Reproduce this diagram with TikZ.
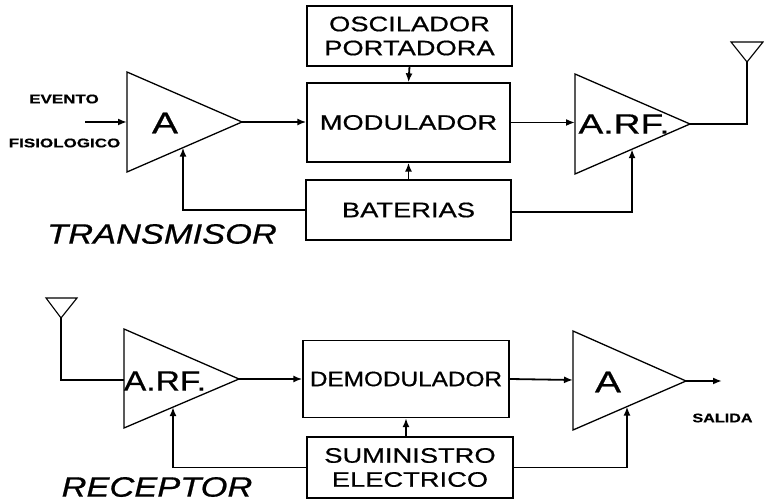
\documentclass[tikz,border=0pt]{standalone}
\usepackage{fontspec}
\setmainfont{Liberation Sans}[FakeBold=0.6]
\newfontfamily\boxfont{Liberation Sans}[FakeStretch=1.3,FakeBold=0.6]
\newfontfamily\demfont{Liberation Sans}[FakeStretch=1.16,FakeBold=0.6]
\usetikzlibrary{arrows.meta,calc}
\begin{document}
\begin{tikzpicture}[x=1pt,y=-1pt,
  blk/.style={draw, line width=1.3pt, inner sep=0pt, align=center,
              font=\boxfont\fontsize{21}{24}\selectfont},
  amp/.style={draw, line width=1.3pt, line join=miter},
  wire/.style={line width=1.8pt},
  arr/.style={wire, -{Latex[length=9pt,width=7pt]}},
  lbl/.style={font=\bfseries\fontsize{12.5}{14}\selectfont, inner sep=0pt, xscale=1.36},
  amptxt/.style={inner sep=0pt, font=\fontsize{28}{32}\selectfont},
  title/.style={inner sep=0pt, font=\itshape\fontsize{28}{32}\selectfont, xscale=1.23}]
\useasboundingbox (0,0) rectangle (764,502);

% ---------------- TRANSMISOR ----------------
\node[blk, minimum width=205pt, minimum height=60pt] (osc) at (409.5,36) {OSCILADOR\\PORTADORA};
\node[blk, minimum width=203pt, minimum height=79pt] (mod) at (408.5,122.5) {MODULADOR};
\node[blk, minimum width=205pt, minimum height=60pt] (bat) at (408.5,210) {BATERIAS};

% amplifier A (transmitter)
\coordinate (a1u) at (127,72);
\coordinate (a1d) at (127,172);
\coordinate (a1t) at (242,122);
\draw[amp] (a1u) -- (a1d) -- (a1t) -- cycle;
\node[amptxt, font=\fontsize{30}{34}\selectfont, xscale=1.3] (a1) at (165,123) {A};
\coordinate (a1in) at (127,122);
\coordinate (a1f) at ($(a1d)!0.487!(a1t)$);

% RF amplifier (transmitter)
\coordinate (r1u) at (575,74);
\coordinate (r1d) at (575,174);
\coordinate (r1t) at (690,124);
\draw[amp] (r1u) -- (r1d) -- (r1t) -- cycle;
\node[amptxt, xscale=1.33] (r1) at (624,124) {A.RF.};
\coordinate (r1in) at (575,122.5);
\coordinate (r1f) at ($(r1d)!0.496!(r1t)$);

% antenna (transmitter)
\coordinate (ant1) at (747,62);
\draw[amp, line width=1.1pt] (731,42) -- (763,42) -- (ant1) -- cycle;

% labels
\node[lbl] (ev) at (64,99) {EVENTO};
\node[lbl] (fis) at (64.5,143) {FISIOLOGICO};
\coordinate (in1) at (85,122);
\node[title] (tx) at (162,234) {TRANSMISOR};

% connectors
\draw[arr] (in1) -- (a1in);
\draw[arr] (a1t) -- (mod.west |- a1t);
\draw[arr] (osc.south) -- (mod.north);
\draw[arr] (bat.north) -- (mod.south);
\draw[arr] (bat.west) -| (a1f);
\draw[arr] (mod.east) -- (r1in);
\draw[wire] (r1t) -| (ant1);
\draw[arr] ([yshift=-2pt]bat.east) -| (r1f);

% ---------------- RECEPTOR ----------------
\node[blk, font=\demfont\fontsize{21}{24}\selectfont, minimum width=206pt, minimum height=77pt] (dem) at (406,379) {DEMODULADOR};
\node[blk, minimum width=206pt, minimum height=61pt] (sum) at (410,467.5) {SUMINISTRO\\ELECTRICO};

% RF amplifier (receiver)
\coordinate (r2u) at (124,329);
\coordinate (r2d) at (124,428);
\coordinate (r2t) at (239,379);
\draw[amp] (r2u) -- (r2d) -- (r2t) -- cycle;
\node[amptxt, xscale=1.2] (r2) at (165,381) {A.RF.};
\coordinate (r2in) at (124,380);
\coordinate (r2f) at ($(r2d)!0.426!(r2t)$);

% amplifier A (receiver)
\coordinate (a2u) at (573,331);
\coordinate (a2d) at (573,430);
\coordinate (a2t) at (686,381);
\draw[amp] (a2u) -- (a2d) -- (a2t) -- cycle;
\node[amptxt, font=\fontsize{30}{34}\selectfont, xscale=1.3] (a2) at (608,382) {A};
\coordinate (a2in) at (573,380);
\coordinate (a2f) at ($(a2d)!0.478!(a2t)$);

% antenna (receiver)
\coordinate (ant2) at (61,318);
\draw[amp, line width=1.1pt] (46,298) -- (77,298) -- (ant2) -- cycle;

% labels
\coordinate (out) at (722,381);
\node[lbl, xscale=0.95] (sal) at (722.5,418) {SALIDA};
\node[title] (rx) at (157,487) {RECEPTOR};

% connectors
\draw[wire] (ant2) |- (r2in);
\draw[arr] (r2t) -- (dem.west |- r2t);
\draw[arr] (dem.south |- sum.north) -- (dem.south);
\draw[arr] (sum.west) -| (r2f);
\draw[arr] (dem.east) -- (a2in);
\draw[arr] (sum.east) -| (a2f);
\draw[arr] (a2t) -- (out);
\end{tikzpicture}
\end{document}
